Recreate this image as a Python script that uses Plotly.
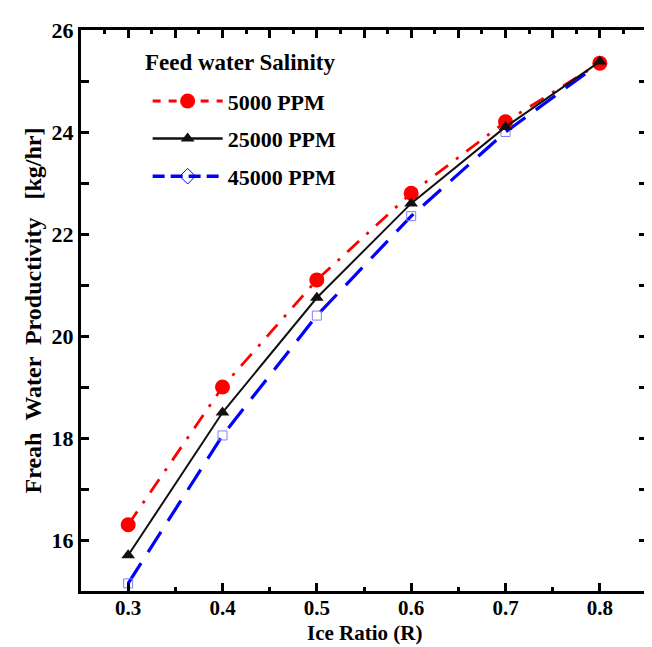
import plotly.graph_objects as go

# Ice ratio (R)
ice_ratio = [0.3, 0.4, 0.5, 0.6, 0.7, 0.8]
tick_text = ["0.3", "0.4", "0.5", "0.6", "0.7", "0.8"]

# Fresh water productivity [kg/hr] for each feed water salinity
prod_5000 = [16.3, 19.0, 21.1, 22.8, 24.2, 25.35]
prod_25000 = [15.7, 18.5, 20.75, 22.6, 24.1, 25.38]
prod_45000 = [15.15, 18.05, 20.4, 22.35, 24.0, 25.35]

series_names = ["5000 PPM", "25000 PPM", "45000 PPM"]

FONT = "Liberation Serif"
NB = "\u00a0"

fig = go.Figure()

# --- curves (legend glyphs are separate traces below) ---
fig.add_trace(go.Scatter(
    x=ice_ratio, y=prod_45000, mode="lines+markers", showlegend=False,
    line=dict(color="#0000ff", width=3.2, dash="24px,13px"),
    marker=dict(symbol="square-open", size=9, color="#7f7fff", line=dict(width=1)),
))
fig.add_trace(go.Scatter(
    x=ice_ratio, y=prod_5000, mode="lines+markers", showlegend=False,
    line=dict(color="#ff0000", width=2.8, dash="16px,10px,3px,10px"),
    marker=dict(symbol="circle", size=15, color="#ff0000"),
))
fig.add_trace(go.Scatter(
    x=ice_ratio, y=prod_25000, mode="lines+markers", showlegend=False,
    line=dict(color="#111111", width=2),
    marker=dict(symbol="triangle-up", size=12, color="#111111"),
))

# --- legend entries ---
fig.add_trace(go.Scatter(
    x=[None], y=[None], mode="lines+markers", name=series_names[0], legendgroup="a",
    line=dict(color="#ff0000", width=3, dash="8px,8px"),
    marker=dict(symbol="circle", size=15, color="#ff0000"), xaxis="x2",
))
fig.add_trace(go.Scatter(
    x=[None], y=[None], mode="lines+markers", name=series_names[1], legendgroup="b",
    line=dict(color="#111111", width=2.5),
    marker=dict(symbol="triangle-up", size=12, color="#111111"), xaxis="x2",
))
fig.add_trace(go.Scatter(
    x=[None], y=[None], mode="lines+markers", name=series_names[2], legendgroup="c",
    line=dict(color="#0000ff", width=3.5, dash="12px,6px"),
    marker=dict(symbol="diamond-open", size=12, color="#0000ff", line=dict(width=1)),
    xaxis="x2",
))

fig.add_annotation(
    text="<b>Feed water Salinity</b>", xref="paper", yref="paper",
    x=(135 - 73) / 569, y=1 - (46 - 13) / 570, xanchor="left", yanchor="middle",
    showarrow=False, font=dict(family=FONT, size=23, color="black"),
)
fig.add_annotation(
    text="<b>Ice Ratio (R)</b>", xref="paper", yref="paper",
    x=0.5, y=-(626 - 583) / 570, xanchor="center", yanchor="middle",
    showarrow=False, font=dict(family=FONT, size=21, color="black"),
)

y_title = "<b>Freah " + NB + "Water " + NB + "Productivity" + NB * 3 + "[kg/hr]</b>"

fig.update_layout(
    width=652, height=647,
    margin=dict(l=73, r=10, t=13, b=64),
    plot_bgcolor="white", paper_bgcolor="white",
    font=dict(family=FONT, color="black"),
    xaxis=dict(
        range=[0.25, 0.85], tickvals=ice_ratio, ticktext=tick_text,
        ticks="inside", ticklen=8, tickwidth=2.5, tickcolor="black",
        minor=dict(dtick=0.05, tick0=0.25, ticks="inside", ticklen=4, tickwidth=2.5, tickcolor="black"),
        showline=True, linewidth=3, linecolor="black", mirror=True,
        showgrid=False, zeroline=False, ticklabelstandoff=-4,
        tickfont=dict(family=FONT, size=21, color="black", weight="bold"),
    ),
    xaxis2=dict(
        range=[0.25, 0.85], overlaying="x", side="top", anchor="y",
        dtick=0.05, tick0=0.25, ticks="inside", ticklen=8, tickwidth=2.5, tickcolor="black",
        minor=dict(dtick=0.025, ticks="inside", ticklen=4, tickwidth=2.5, tickcolor="black"),
        showticklabels=False, showgrid=False, zeroline=False, showline=False,
    ),
    yaxis=dict(
        range=[15, 26], dtick=2, tick0=16,
        ticks="inside", ticklen=8, tickwidth=2.5, tickcolor="black",
        minor=dict(dtick=1, ticks="inside", ticklen=4, tickwidth=2.5, tickcolor="black"),
        showline=True, linewidth=3, linecolor="black", mirror="allticks",
        showgrid=False, zeroline=False,
        tickfont=dict(family=FONT, size=22, color="black", weight="bold"),
        title=dict(text=y_title, font=dict(family=FONT, size=24), standoff=4),
    ),
    legend=dict(
        x=(140 - 73) / 569, y=1 - (64 - 13) / 570, xanchor="left", yanchor="top",
        bgcolor="rgba(0,0,0,0)", itemwidth=70,
        font=dict(family=FONT, size=22, color="black", weight="bold"),
        tracegroupgap=6,
    ),
)

fig.write_html("out.html")
